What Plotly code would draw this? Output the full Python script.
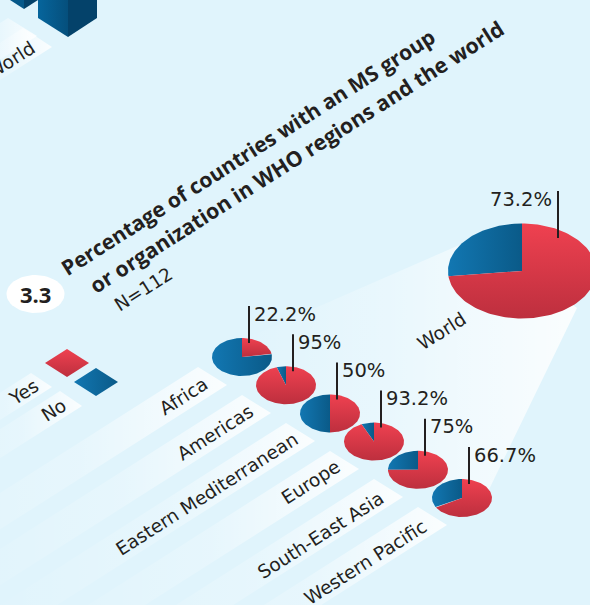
import math
import plotly.graph_objects as go

# ---- data ----
regions = ["Africa", "Americas", "Eastern Mediterranean", "Europe", "South-East Asia", "Western Pacific"]
yes_pct = [22.2, 95, 50, 93.2, 75, 66.7]
world_label = "World"
world_yes_pct = 73.2
legend_labels = ["Yes", "No"]
title_lines = ["Percentage of countries with an MS group", "or organization in WHO regions and the world"]
sample_label = "N=112"
figure_number = "3.3"

# ---- layout constants (pixels on a 590x605 canvas) ----
BG = "#e0f4fc"
INK = "#231f20"
FONT = "DejaVu Sans"
BOLD = "Open Sans"
ANGLE = -32.5
SLOPE = 0.636
RED = [[0, "#bd2f3e"], [1, "#ef4150"]]
BLUE = [[0, "#1277b2"], [1, "#0a5a88"]]
FADE = [[0, "rgba(255,255,255,0)"], [0.55, "rgba(255,255,255,0.22)"], [1, "rgba(255,255,255,0.86)"]]

fig = go.Figure()


def poly(xs, ys, color=None, grad=None, orient="horizontal"):
    kw = dict(fillgradient=dict(type=orient, colorscale=grad)) if grad else dict(fillcolor=color)
    fig.add_trace(go.Scatter(x=xs + xs[:1], y=ys + ys[:1], mode="lines", fill="toself",
                             line=dict(width=0), hoverinfo="skip", showlegend=False, **kw))


def band(tx, ty, wx, wy, length):
    poly([tx, tx + wx, tx + wx - length, tx - length],
         [ty, ty + wy, ty + wy + length * SLOPE, ty + length * SLOPE], grad=FADE)


def sector(cx, cy, rx, ry, a0, a1, grad):
    n = max(2, int((a1 - a0) / 2))
    xs, ys = [cx], [cy]
    for k in range(n + 1):
        a = math.radians(a0 + (a1 - a0) * k / n)
        xs.append(cx + rx * math.sin(a))
        ys.append(cy - ry * math.cos(a))
    poly(xs, ys, grad=grad, orient="vertical" if grad is RED else "horizontal")


def pie(cx, cy, rx, ry, pct):
    end = pct * 3.6
    sector(cx, cy, rx, ry, end, 360, BLUE)
    sector(cx, cy, rx, ry, 0, end, RED)


def label(x, y, text, size, angle=0, anchor="center", family=FONT, bold=False):
    fig.add_annotation(x=x, y=y, text=f"<b>{text}</b>" if bold else text, showarrow=False, textangle=angle,
                       xanchor=anchor, yanchor="middle", borderpad=0, borderwidth=0,
                       font=dict(family=family, size=size, color=INK))


def leader(x, y0, y1):
    fig.add_shape(type="line", x0=x, x1=x, y0=y0, y1=y1, line=dict(color=INK, width=2), layer="above")


# beam from the world pie
poly([480, 235, 480, 577], [236, 343, 508, 308],
     grad=[[0, "rgba(255,255,255,0)"], [0.45, "rgba(255,255,255,0.3)"], [1, "rgba(255,255,255,0.85)"]])

# stripes
for i in range(len(regions)):
    band(198 + 44 * i, 367 + 28 * i, 29, 18, 300)
band(31, 373, 21, 14, 80)
band(60, 391, 22, 15, 110)
band(23, 28, 29, 19, 70)
band(8, 18, 29, 18, 60)

# cubes cropped by the top edge
poly([38, 38, 68, 68], [0, 18, 37, 0], grad=[[0, "#06659c"], [1, "#054f7c"]])
poly([68, 68, 97, 97], [0, 37, 18, 0], color="#04426a")
poly([10, 24, 24], [0, 9, 0], color="#06598a")
poly([24, 24, 38], [0, 9, 0], color="#04426a")

# legend swatches
poly([45, 67, 89, 67], [363, 349, 363, 377], grad=RED, orient="vertical")
poly([74, 96, 118, 96], [382, 368, 382, 396], grad=BLUE)

# badge
t = [math.radians(a) for a in range(0, 361, 6)]
poly([35.5 + 29 * math.cos(a) for a in t], [294 + 19 * math.sin(a) for a in t], color="#ffffff")

# pies
pie(522, 271, 74, 47.5, world_yes_pct)
leader(558, 191, 238)
label(490, 199, f"{world_yes_pct:g}%", 19.5, anchor="left")
label(441, 331, world_label, 18.5, ANGLE)

label_centres = [(183, 396), (215, 432), (206, 494), (310, 482), (320, 535), (365, 562)]
for i, (name, v) in enumerate(zip(regions, yes_pct)):
    cx, cy = 242 + 44 * i, 357 + 28.2 * i
    pie(cx, cy, 30, 19, v)
    leader(cx + 7, cy - 51, cy - 14)
    label(cx + 12, cy - 43, f"{v:g}%", 19.5, anchor="left")
    label(*label_centres[i], name, 18.5, ANGLE)

# legend text
label(23, 392, legend_labels[0], 18.5, ANGLE)
label(53, 410, legend_labels[1], 18.5, ANGLE)
label(10, 60, world_label, 18.5, ANGLE)

# titles
label(248, 152, title_lines[0], 21, ANGLE, family=BOLD, bold=True)
label(296, 156, title_lines[1], 21.3, ANGLE, family=BOLD, bold=True)
label(143, 289, sample_label, 18.5, ANGLE)
label(35.5, 294, figure_number, 22, family=BOLD, bold=True)

fig.update_layout(width=590, height=605, margin=dict(l=0, r=0, t=0, b=0),
                  paper_bgcolor=BG, plot_bgcolor=BG, showlegend=False,
                  xaxis=dict(range=[0, 590], visible=False, fixedrange=True),
                  yaxis=dict(range=[605, 0], visible=False, fixedrange=True))
fig.write_html("out.html", config=dict(displayModeBar=False),
               post_script="document.body.style.margin='0';document.body.style.overflow='hidden';"
                           "document.documentElement.style.overflow='hidden';")
